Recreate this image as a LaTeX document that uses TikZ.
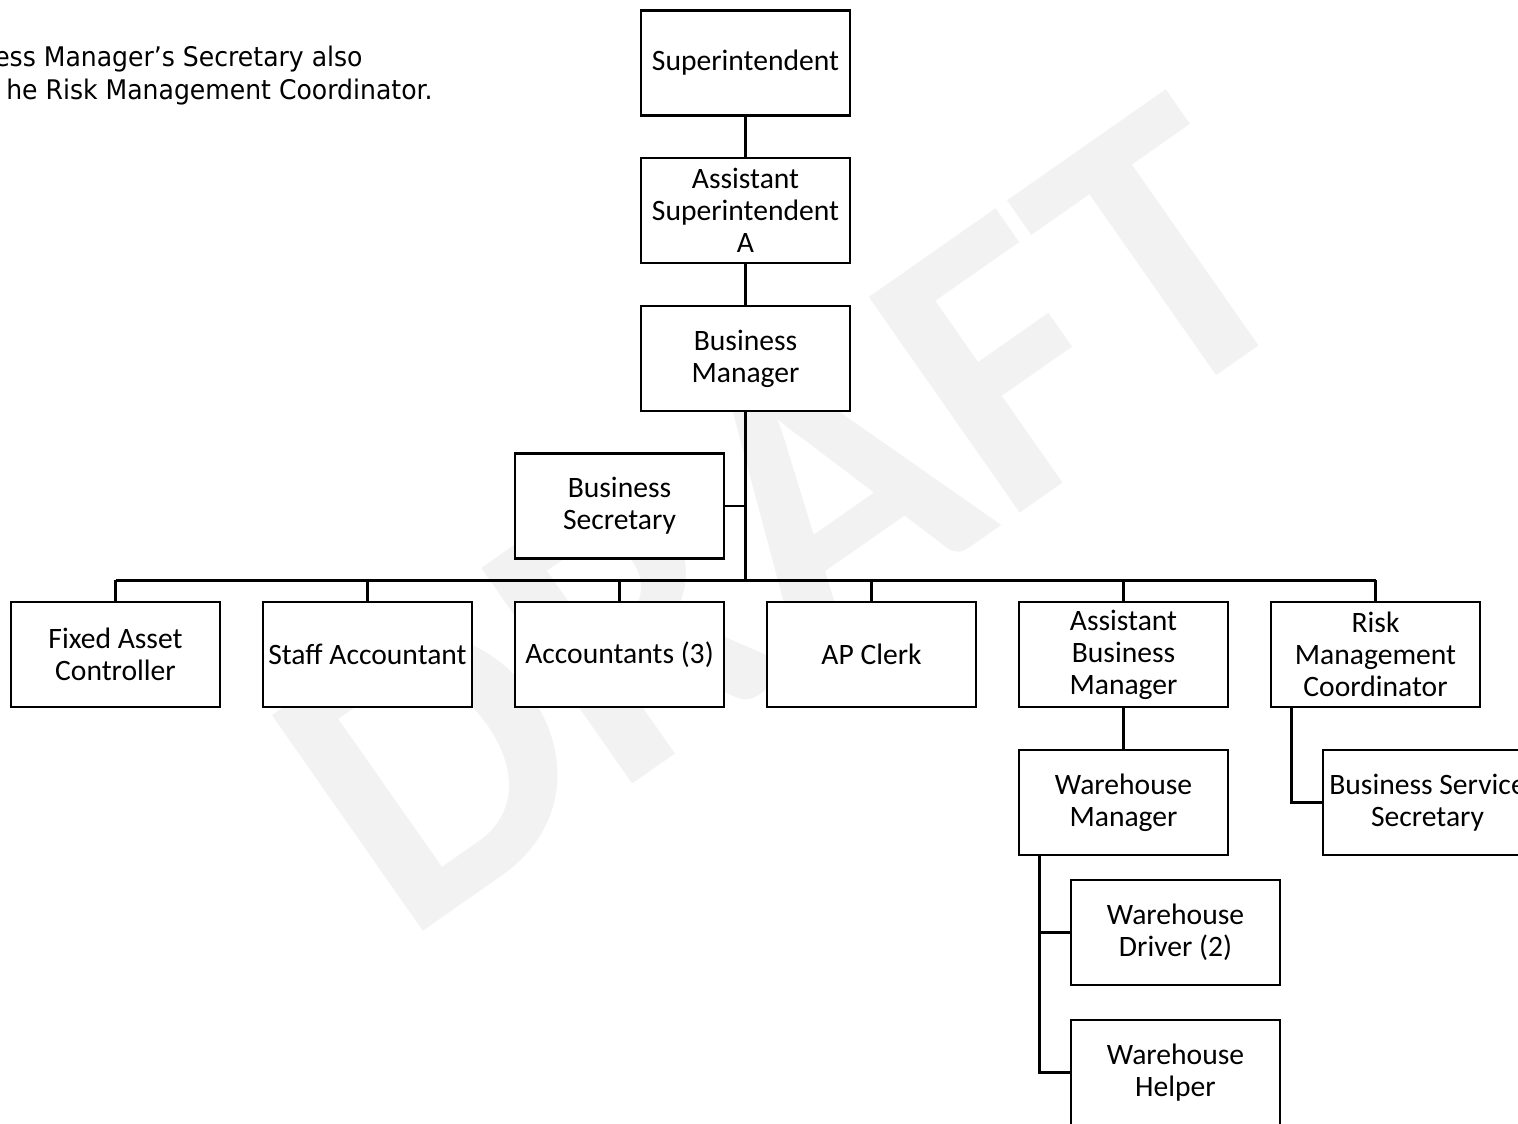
\documentclass[tikz,border=0pt]{standalone}
\usepackage{fontspec}
\setmainfont{Carlito}
\newfontfamily\notefont[FakeStretch=0.93]{DejaVu Sans}
\usetikzlibrary{positioning}

\begin{document}
\begin{tikzpicture}[x=0.5pt,y=-0.5pt,
  box/.style={draw,line width=1.4pt,fill=white,align=center,inner sep=0pt,
    minimum width=104.5pt,minimum height=52.5pt,font=\fontsize{14.8}{16}\selectfont},
  note/.style={anchor=base east,inner sep=0pt,font=\notefont\fontsize{13.5}{16}\selectfont},
  link/.style={line width=1.4pt},
  drop/.style={line width=1.1pt}]
\useasboundingbox (0,0) rectangle (1518,1123);
\node[rotate=35,anchor=base,inner sep=0pt,text=black!5,font=\bfseries\fontsize{203}{203}\selectfont] (draft) at (862,624) {DRAFT};
\node[note] (note1) at (363,67) {ess Manager’s Secretary also};
\node[note] (note2) at (433,100) {he Risk Management Coordinator.};

\node[box] (sup) at (745.5,63) {Superintendent};
\node[box] (asup) at (745.5,210.5) {Assistant\\Superintendent\\A};
\node[box] (bm) at (745.5,358.5) {Business\\Manager};
\node[box] (bsec) at (619.5,506) {Business\\Secretary};
\node[box] (fac) at (115.5,654.5) {Fixed Asset\\Controller};
\node[box] (sta) at (367.5,654.5) {Staff Accountant};
\node[box] (acc) at (619.5,654.5) {Accountants (3)};
\node[box] (ap) at (871.5,654.5) {AP Clerk};
\node[box] (abm) at (1123.5,654.5) {Assistant\\Business\\Manager};
\node[box] (rmc) at (1375.5,654.5) {Risk\\Management\\Coordinator};
\node[box] (whm) at (1123.5,802.5) {Warehouse\\Manager};
\node[box] (bss) at (1427.5,802.5) {Business Service\\Secretary};
\node[box] (whd) at (1175.5,932.5) {Warehouse\\Driver (2)};
\node[box] (whh) at (1175.5,1072.5) {Warehouse\\Helper};

\coordinate (bus) at (745.5,580);
\draw[link] (sup) -- (asup);
\draw[link] (asup) -- (bm);
\draw[line width=1.8pt] (bm.south) -- (bm.south |- bus);
\draw[drop] (bsec.east) -- (bsec.east -| bm.south);
\draw[line width=1.5pt] (fac.north |- bus) -- (rmc.north |- bus);
\foreach \n in {fac,sta,acc,ap,abm,rmc}
  \draw[drop] (\n.north) -- (\n.north |- bus);
\draw[link] (abm) -- (whm);
\draw[link] ([xshift=11pt]rmc.south west) |- (bss.west);
\draw[link] ([xshift=11pt]whm.south west) |- (whd.west);
\draw[link] ([xshift=11pt]whm.south west) |- (whh.west);
\end{tikzpicture}
\end{document}
